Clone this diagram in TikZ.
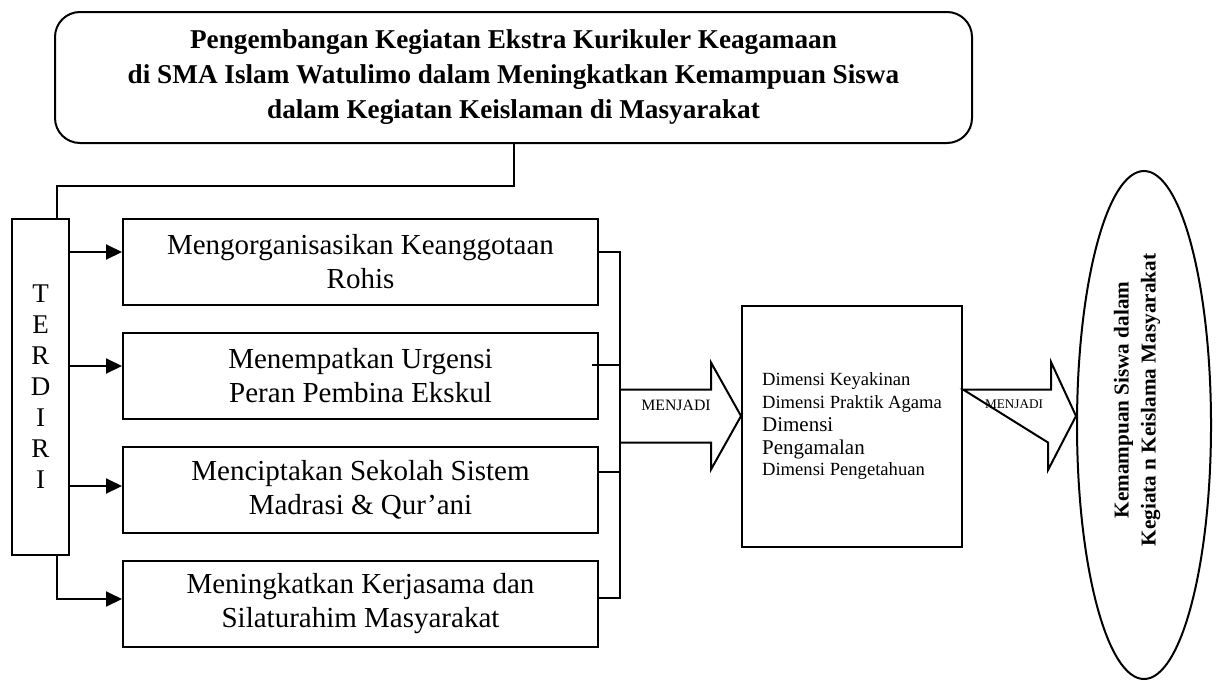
\documentclass[tikz,border=0pt]{standalone}
\usepackage{fontspec}
\setmainfont{Liberation Serif}
\usetikzlibrary{arrows.meta,positioning,shapes.geometric}

\begin{document}
\begin{tikzpicture}[
    x=0.5pt, y=-0.5pt, line width=1pt,
    node distance=13pt and 13pt,
    judul/.style={draw, rounded corners=12.5pt, align=center, minimum width=458.5pt, minimum height=65.5pt, font=\fontsize{13.6}{17.5}\selectfont\bfseries},
    kotak/.style={draw, align=center, minimum width=237.5pt, minimum height=43pt, font=\fontsize{14.5}{17}\selectfont},
    tegak/.style={draw, align=center, minimum width=28.5pt, minimum height=168pt, font=\fontsize{13.5}{15.5}\selectfont},
    dimbox/.style={draw, align=left, minimum width=110pt, minimum height=120.5pt, font=\fontsize{9.3}{10.5}\selectfont},
    elips/.style={draw, ellipse, minimum width=67pt, minimum height=254pt, inner sep=0pt},
    blok/.style={draw, line join=miter},
    lbl/.style={inner sep=0pt, font=\fontsize{7.9}{9}\selectfont},
    panah/.style={-{Triangle[length=8pt,width=7.5pt]}}
]
\useasboundingbox (0,0) rectangle (1218,680);
\node[judul] (judul) at (513.5,77.5) {Pengembangan Kegiatan Ekstra Kurikuler Keagamaan\\di SMA Islam Watulimo dalam Meningkatkan Kemampuan Siswa\\dalam Kegiatan Keislaman di Masyarakat};
\node[tegak] (terdiri) at (40.5,387) {T\\E\\R\\D\\I\\R\\I};
\node[kotak] (k1) at (360.5,262) {Mengorganisasikan Keanggotaan\\Rohis};
\node[kotak, below=of k1] (k2) {Menempatkan Urgensi\\Peran Pembina Ekskul};
\node[kotak, below=of k2] (k3) {Menciptakan Sekolah Sistem\\Madrasi \& Qur’ani};
\node[kotak, below=of k3] (k4) {Meningkatkan Kerjasama dan\\Silaturahim Masyarakat};
\node[dimbox] (dimensi) at (852,426.5) {Dimensi Keyakinan\\[1pt]Dimensi Praktik Agama\\[1pt]{\fontsize{10.5}{12.5}\selectfont Dimensi}\\[1pt]{\fontsize{10.5}{12.5}\selectfont Pengamalan}\\Dimensi Pengetahuan};
\node[elips] (hasil) at (1144,425) {};
\node[rotate=90, align=center, font=\fontsize{10.6}{13.5}\selectfont\bfseries] (hasilteks) at (1137,400) {Kemampuan Siswa dalam\\Kegiata n Keislama Masyarakat};
\coordinate (gabung) at (620,416);
% dari judul ke terdiri
\draw (judul.south) |- ([xshift=8pt,yshift=16pt]terdiri.north) -- ([xshift=8pt]terdiri.north);
\foreach \i/\s in {1/5pt,2/5pt,3/2pt} {
    \coordinate (ki\i) at ([yshift=\s]k\i.west);
    \draw[panah] (terdiri.east |- ki\i) -- (ki\i);
}
\draw[panah] ([xshift=8pt]terdiri.south) |- ([yshift=2.5pt]k4.west);
% ke garis gabung
\draw ([yshift=5pt]k1.east) -| (gabung) |- ([yshift=3pt]k4.east);
\draw ([xshift=-3.5pt,yshift=5.5pt]k2.east) -- ++(14.5pt,0);
\draw ([yshift=9pt]k3.east) -- ++(11pt,0);
% panah besar
\draw[blok] (gabung) ++(0,13.25pt) -- ++(45.5pt,0) -- ++(0,13.5pt) -- (dimensi.west |- gabung) -- ++(-15pt,-26.75pt) -- ++(0,13.5pt) -- ++(-45.5pt,0);
\node[lbl] (lbl1) at ([xshift=28pt,yshift=5.5pt]gabung) {MENJADI};
\coordinate (kanan) at (dimensi.east |- gabung);
\draw[blok] (kanan) ++(0,13.25pt) -- ++(44pt,0) -- ++(0,13.75pt) -- (hasil.west |- gabung) -- ++(-14pt,-27pt) -- ++(0,13.75pt) -- cycle;
\node[lbl, font=\fontsize{6.6}{8}\selectfont] (lbl2) at ([xshift=25.5pt,yshift=6pt]kanan) {MENJADI};
\end{tikzpicture}
\end{document}
